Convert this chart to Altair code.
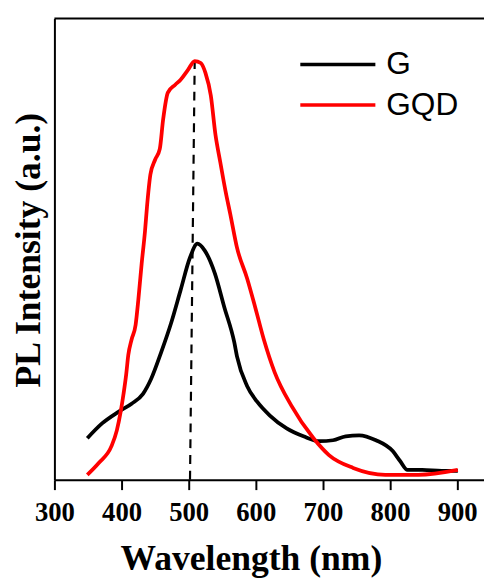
import altair as alt
import pandas as pd

# G curve (wavelength nm, intensity a.u.)
g_wl = [349, 371, 396, 415, 432, 444, 459, 474, 488, 502, 513, 524, 539, 553, 568, 572,
        587, 602, 621, 646, 671, 695, 715, 734, 754, 779, 804, 815, 826, 848, 877, 901]
g_int = [42, 57, 69, 77, 87, 102, 129, 159, 192, 225, 239, 232, 209, 175, 139, 125,
         95, 79, 65, 52, 44, 39, 40, 44, 45, 40, 29, 19, 10, 10, 9, 9]

# GQD curve
q_wl = [349, 366, 385, 393, 399, 403, 407, 410, 415, 421, 425, 430, 435, 438, 443, 450,
        457, 462, 469, 480, 488, 499, 509, 518, 525, 533, 540, 547, 555, 562, 572, 587,
        599, 612, 628, 653, 686, 709, 745, 793, 842, 901]
q_int = [5, 17, 34, 50, 70, 87, 107, 126, 142, 157, 182, 219, 252, 277, 309, 324,
         335, 365, 392, 400, 405, 415, 424, 422, 412, 389, 349, 322, 292, 269, 235, 204,
         175, 142, 109, 75, 42, 25, 12, 5, 5, 10]

# dashed guide at the peak
peak_wl = [509, 502]
peak_int = [424, 0]

series = ["G", "GQD"]
colors = ["#000000", "#ff0000"]
x_ticks = [300, 400, 500, 600, 700, 800, 900]

df = pd.concat([
    pd.DataFrame({"wl": g_wl, "inten": g_int, "s": "G"}),
    pd.DataFrame({"wl": q_wl, "inten": q_int, "s": "GQD"}),
])
dash_df = pd.DataFrame({"wl": peak_wl, "inten": peak_int})

xscale = alt.Scale(domain=[300, 940], nice=False, zero=False)
yscale = alt.Scale(domain=[0, 467], nice=False)

xaxis = alt.Axis(
    values=x_ticks, title="Wavelength (nm)", grid=False, labelFlush=False,
    domainColor="black", domainWidth=2, tickColor="black", tickWidth=2, tickSize=10,
    labelFont="Liberation Serif", labelFontWeight="bold", labelFontSize=27, labelColor="black",
    labelPadding=10,
    titleFont="Liberation Serif", titleFontWeight="bold", titleFontSize=36, titleColor="black",
    titleX=199, titleY=91, titleBaseline="alphabetic", titleAnchor="start", titleAlign="center",
)
yaxis = alt.Axis(
    title="PL Intensity (a.u.)", grid=False, ticks=False, labels=False,
    domainColor="black", domainWidth=2,
    titleFont="Liberation Serif", titleFontWeight="bold", titleFontSize=36, titleColor="black",
    titleX=-15, titleY=234, titleBaseline="alphabetic", titleAlign="center", titleAngle=-90,
)

lines = alt.Chart(df).mark_line(strokeWidth=3.8, clip=False, interpolate="monotone").encode(
    x=alt.X("wl:Q", scale=xscale, axis=xaxis),
    y=alt.Y("inten:Q", scale=yscale, axis=yaxis),
    color=alt.Color("s:N", scale=alt.Scale(domain=series, range=colors),
                    legend=alt.Legend(
                        title=None, orient="none", legendX=247, legendY=26,
                        symbolType="stroke", symbolSize=5776, symbolStrokeWidth=3.5,
                        labelFont="Liberation Sans", labelFontSize=32, labelColor="black",
                        labelOffset=9, rowPadding=0, clipHeight=41,
                    )),
    order="wl:Q",
)

dash = alt.Chart(dash_df).mark_line(color="black", strokeWidth=2.2, strokeDash=[9, 7]).encode(
    x=alt.X("wl:Q", scale=xscale),
    y=alt.Y("inten:Q", scale=yscale),
)

top_border = alt.Chart(pd.DataFrame({"a": [0]})).mark_rule(color="black", strokeWidth=2).encode(
    x=alt.value(0), x2=alt.value(440), y=alt.value(0)
)

chart = alt.layer(dash, lines, top_border).properties(
    width=435, height=467,
    autosize=alt.AutoSizeParams(type="none"),
    padding={"left": 47, "top": 7, "right": 0, "bottom": 110},
).configure_view(stroke=None)

chart.save("out.html", embed_options={"renderer": "svg", "actions": False})
